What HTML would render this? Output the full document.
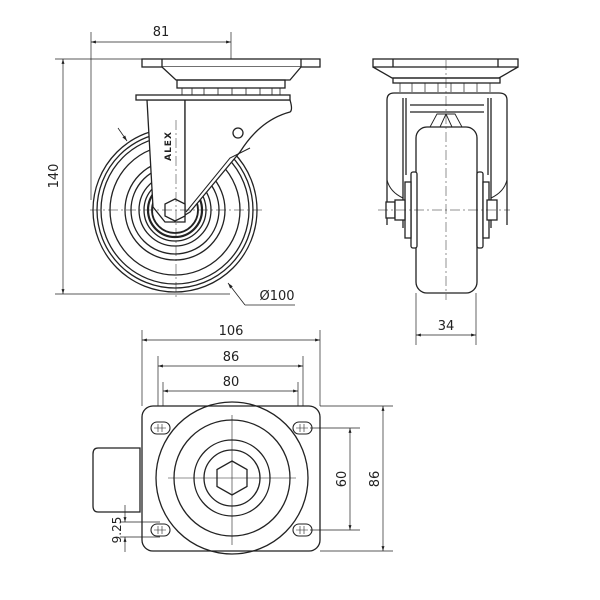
<!DOCTYPE html>
<html><head><meta charset="utf-8"><style>
html,body{margin:0;padding:0;background:#fff}
svg{display:block}
text{font-family:"DejaVu Sans","Liberation Sans",sans-serif;font-size:13px;fill:#222}
</style></head><body>
<svg width="600" height="600" viewBox="0 0 600 600" xmlns="http://www.w3.org/2000/svg">
<defs>
<marker id="a" viewBox="0 0 10 10" refX="10" refY="5" markerWidth="7" markerHeight="7" orient="auto-start-reverse"><path d="M0,2 L10,5 L0,8 z" fill="#222"/></marker>
</defs>
<g stroke="#222" fill="none" stroke-width="1.3">
<!-- ===== SIDE VIEW ===== -->
<line x1="91" y1="32" x2="91" y2="200" stroke-width="0.7"/>
<line x1="231" y1="32" x2="231" y2="73" stroke-width="0.7"/>
<line x1="91" y1="42" x2="231" y2="42" stroke-width="0.7" marker-start="url(#a)" marker-end="url(#a)"/>
<line x1="55" y1="59" x2="142" y2="59" stroke-width="0.7"/>
<line x1="55" y1="294" x2="230" y2="294" stroke-width="0.7"/>
<line x1="63" y1="59" x2="63" y2="294" stroke-width="0.7" marker-start="url(#a)" marker-end="url(#a)"/>
<circle cx="175" cy="210" r="82"/>
<circle cx="175" cy="210" r="78"/>
<circle cx="175" cy="210" r="74"/>
<circle cx="175" cy="210" r="65"/>
<circle cx="175" cy="210" r="50"/>
<circle cx="175" cy="210" r="44"/>
<circle cx="175" cy="210" r="36"/>
<circle cx="175" cy="210" r="31"/>
<circle cx="175" cy="210" r="27" stroke-width="2.2"/>
<circle cx="175" cy="210" r="23" stroke-width="1.8"/>
<path d="M147,100 L153,207 L165,222 L185,222 L185,100 Z" fill="#fff"/>
<path d="M185,100 L290,100 Q293,110 290,112 Q260,120 240,152 L190,212 L185,215 Z" fill="#fff"/>
<path d="M186,212 L230,158 L250,148" stroke-width="1"/>
<rect x="136" y="95" width="154" height="5" fill="#fff"/>
<circle cx="238" cy="133" r="5" fill="#fff"/>
<polygon points="175,199 185,204 185,216 175,221 165,216 165,204" fill="#fff"/>
<line x1="176" y1="120" x2="176" y2="300" stroke-width="0.5" stroke-dasharray="10,3,2,3"/>
<line x1="90" y1="210" x2="265" y2="210" stroke-width="0.5" stroke-dasharray="10,3,2,3"/>
<rect x="142" y="59" width="178" height="8" fill="#fff"/>
<line x1="162" y1="59" x2="162" y2="67"/><line x1="301" y1="59" x2="301" y2="67"/>
<path d="M162,67 L176,80 L290,80 L301,67" fill="#fff"/>
<rect x="177" y="80" width="108" height="8"/>
<path d="M182,88 L182,95 M192,88 L192,95 M204,88 L204,95 M218,88 L218,95 M232,88 L232,95 M246,88 L246,95 M260,88 L260,95 M272,88 L272,95 M280,88 L280,95" stroke-width="0.8"/>
<line x1="118" y1="128" x2="127" y2="141" stroke-width="0.8" marker-end="url(#a)"/>
<line x1="245" y1="305" x2="228" y2="283" stroke-width="0.8" marker-end="url(#a)"/>
<line x1="245" y1="305" x2="295" y2="305" stroke-width="0.8"/>

<!-- ===== FRONT VIEW ===== -->
<rect x="373" y="59" width="145" height="8" fill="#fff"/>
<line x1="393" y1="59" x2="393" y2="67"/><line x1="498" y1="59" x2="498" y2="67"/>
<path d="M373,67 L392,78 L499,78 L518,67"/>
<rect x="393" y="78" width="107" height="5"/>
<path d="M400,83 L400,92 M412,83 L412,92 M425,83 L425,92 M438,83 L438,92 M451,83 L451,92 M464,83 L464,92 M477,83 L477,92 M490,83 L490,92" stroke-width="0.7"/>
<path d="M387,225 L387,100 Q387,93 394,93 L499,93 Q507,93 507,100 L507,225"/>
<path d="M387,180 Q390,192 403,198 M507,180 Q504,192 491,198" stroke-width="1"/>
<line x1="403" y1="98" x2="403" y2="228"/><line x1="491" y1="98" x2="491" y2="228"/>
<line x1="406" y1="98" x2="406" y2="175"/><line x1="488" y1="98" x2="488" y2="175"/>
<line x1="410" y1="105" x2="484" y2="105"/><line x1="410" y1="112" x2="484" y2="112"/>
<path d="M430,127 L437,114 L455,114 L462,127 M446,114 L440,127 M446,114 L452,127" stroke-width="0.9"/>
<rect x="416" y="127" width="61" height="166" rx="11" fill="#fff"/>
<rect x="411" y="172" width="6" height="76" rx="2" fill="#fff"/>
<rect x="477" y="172" width="6" height="76" rx="2" fill="#fff"/>
<rect x="405" y="182" width="6" height="56" fill="#fff"/>
<rect x="483" y="182" width="6" height="56" fill="#fff"/>
<rect x="386" y="202" width="9" height="16" fill="#fff"/>
<rect x="395" y="200" width="10" height="20" fill="#fff"/>
<rect x="487" y="200" width="10" height="20" fill="#fff"/>
<line x1="446" y1="60" x2="446" y2="300" stroke-width="0.5" stroke-dasharray="10,3,2,3"/>
<line x1="378" y1="210" x2="510" y2="210" stroke-width="0.5" stroke-dasharray="10,3,2,3"/>
<line x1="416" y1="293" x2="416" y2="345" stroke-width="0.7"/>
<line x1="476" y1="293" x2="476" y2="345" stroke-width="0.7"/>
<line x1="416" y1="335" x2="476" y2="335" stroke-width="0.7" marker-start="url(#a)" marker-end="url(#a)"/>

<!-- ===== BOTTOM VIEW ===== -->
<line x1="142" y1="330" x2="142" y2="406" stroke-width="0.7"/>
<line x1="320" y1="330" x2="320" y2="406" stroke-width="0.7"/>
<line x1="142" y1="340" x2="320" y2="340" stroke-width="0.7" marker-start="url(#a)" marker-end="url(#a)"/>
<line x1="158" y1="356" x2="158" y2="430" stroke-width="0.7"/>
<line x1="303" y1="356" x2="303" y2="430" stroke-width="0.7"/>
<line x1="158" y1="366" x2="303" y2="366" stroke-width="0.7" marker-start="url(#a)" marker-end="url(#a)"/>
<line x1="163" y1="382" x2="163" y2="430" stroke-width="0.7"/>
<line x1="298" y1="382" x2="298" y2="430" stroke-width="0.7"/>
<line x1="163" y1="391" x2="298" y2="391" stroke-width="0.7" marker-start="url(#a)" marker-end="url(#a)"/>
<rect x="142" y="406" width="178" height="145" rx="11" fill="#fff"/>
<path d="M140,448 L140,512 L98,512 Q93,512 93,506 L93,454 Q93,448 98,448 Z"/>
<circle cx="232" cy="478" r="76"/>
<circle cx="232" cy="478" r="58"/>
<circle cx="232" cy="478" r="38"/>
<circle cx="232" cy="478" r="28"/>
<polygon points="232,461 247,469.5 247,486.5 232,495 217,486.5 217,469.5"/>
<line x1="232" y1="415" x2="232" y2="545" stroke-width="0.6"/>
<line x1="168" y1="478" x2="296" y2="478" stroke-width="0.6"/>
<g stroke-width="1.1">
<rect x="151" y="422" width="19" height="12" rx="6"/><rect x="293" y="422" width="19" height="12" rx="6"/>
<rect x="151" y="524" width="19" height="12" rx="6"/><rect x="293" y="524" width="19" height="12" rx="6"/>
</g>
<g stroke-width="0.6">
<path d="M158,424 v8 M162,424 v8 M154,428 h12 M300,424 v8 M304,424 v8 M296,428 h12 M158,526 v8 M162,526 v8 M154,530 h12 M300,526 v8 M304,526 v8 M296,530 h12"/>
</g>
<line x1="310" y1="428" x2="360" y2="428" stroke-width="0.7"/>
<line x1="310" y1="530" x2="360" y2="530" stroke-width="0.7"/>
<line x1="350" y1="428" x2="350" y2="530" stroke-width="0.7" marker-start="url(#a)" marker-end="url(#a)"/>
<line x1="320" y1="406" x2="393" y2="406" stroke-width="0.7"/>
<line x1="320" y1="551" x2="393" y2="551" stroke-width="0.7"/>
<line x1="383" y1="406" x2="383" y2="551" stroke-width="0.7" marker-start="url(#a)" marker-end="url(#a)"/>
<line x1="120" y1="522" x2="160" y2="522" stroke-width="0.7"/>
<line x1="120" y1="537" x2="160" y2="537" stroke-width="0.7"/>
<line x1="125" y1="505" x2="125" y2="522" stroke-width="0.7" marker-end="url(#a)"/>
<line x1="125" y1="552" x2="125" y2="537" stroke-width="0.7" marker-end="url(#a)"/>
</g>
<text x="161" y="36" text-anchor="middle">81</text>
<text transform="translate(58,176) rotate(-90)" text-anchor="middle">140</text>
<text x="277" y="300" text-anchor="middle">Ø100</text>
<text x="446" y="330" text-anchor="middle">34</text>
<text x="231" y="335" text-anchor="middle">106</text>
<text x="231" y="361" text-anchor="middle">86</text>
<text x="231" y="386" text-anchor="middle">80</text>
<text transform="translate(346,479) rotate(-90)" text-anchor="middle">60</text>
<text transform="translate(379,479) rotate(-90)" text-anchor="middle">86</text>
<text transform="translate(121,530) rotate(-90)" text-anchor="middle" style="font-size:12px">9.25</text>
<text transform="translate(171,146) rotate(-90)" text-anchor="middle" style="font-size:9px;font-weight:bold;letter-spacing:1px">ALEX</text>
</svg>
</body></html>
